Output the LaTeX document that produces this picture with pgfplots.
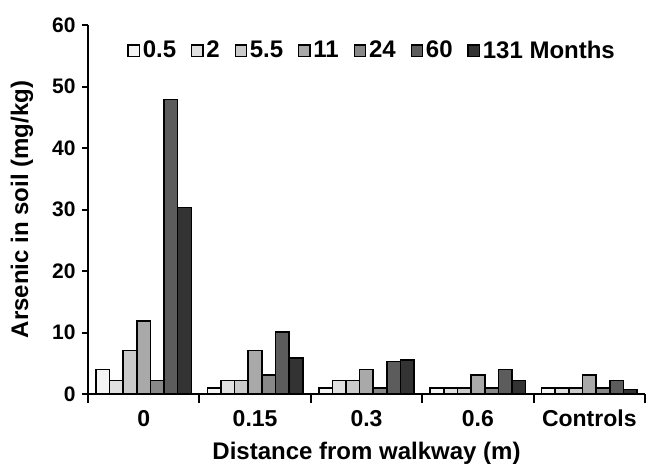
\documentclass[border=0pt]{standalone}
\usepackage{pgfplots}
\pgfplotsset{compat=1.18}
\usepackage{fontspec}
\setmainfont{Liberation Sans}
\definecolor{c1}{HTML}{F4F4F4}
\definecolor{c2}{HTML}{E0E0E0}
\definecolor{c3}{HTML}{CACACA}
\definecolor{c4}{HTML}{A9A9A9}
\definecolor{c5}{HTML}{888888}
\definecolor{c6}{HTML}{5C5C5C}
\definecolor{c7}{HTML}{333333}
\begin{document}
\begin{tikzpicture}
\useasboundingbox (-44pt,-36pt) rectangle (279.5pt,197pt);
\begin{axis}[
  scale only axis,
  width=278.5pt, height=184.5pt,
  ybar=0pt, bar width=6.8pt,
  xmin=-0.5, xmax=4.5, ymin=0, ymax=60,
  axis lines=left,
  axis line style={line width=1pt, -},
  xtick={0,1,2,3,4},
  xticklabels={0,0.15,0.3,0.6,Controls},
  minor xtick={-0.5,0.5,1.5,2.5,3.5,4.5},
  major x tick style={draw=none},
  minor x tick style={line width=1pt, black},
  minor tick length=4.5pt,
  ytick={0,10,...,60},
  major tick length=3pt,
  y tick style={line width=1pt, black},
  tick align=outside,
  /pgf/number format/assume math mode=true,
  xticklabel style={font=\fontsize{11.5}{13}\selectfont\bfseries, anchor=center, yshift=-9.25pt},
  yticklabel style={font=\fontsize{10.5}{12}\selectfont\bfseries, anchor=east, inner sep=0pt, xshift=-3pt},
  xlabel={Distance from walkway (m)},
  ylabel={Arsenic in soil (mg/kg)},
  every axis x label/.style={at={(axis description cs:0.5,0)}, anchor=center, yshift=-29.5pt, font=\fontsize{12}{14}\selectfont\bfseries},
  every axis y label/.style={at={(axis description cs:-0.1185,0.5)}, anchor=center, rotate=90, font=\fontsize{12}{14}\selectfont\bfseries},
  legend columns=-1,
  legend image code/.code={\draw[#1, line width=0.7pt] (0pt,-2.9pt) rectangle (5.6pt,2.9pt);},
  legend style={draw=none, fill=none, inner sep=0pt, at={(rel axis cs:0.0700,0.93)}, anchor=west,
    font=\fontsize{12}{14}\selectfont\bfseries, nodes={inner sep=1.4pt},
    /tikz/every even column/.append style={column sep=6pt}},
  every axis plot/.append style={draw=black, line width=0.8pt},
]
\addplot[fill=c1] coordinates {(0,4.0) (1,1.0) (2,1.0) (3,1.0) (4,1.0)};
\addplot[fill=c2] coordinates {(0,2.2) (1,2.2) (2,2.2) (3,1.0) (4,1.0)};
\addplot[fill=c3] coordinates {(0,7.1) (1,2.2) (2,2.2) (3,1.0) (4,1.0)};
\addplot[fill=c4] coordinates {(0,11.9) (1,7.1) (2,4.0) (3,3.1) (4,3.1)};
\addplot[fill=c5] coordinates {(0,2.2) (1,3.1) (2,1.0) (3,1.0) (4,1.0)};
\addplot[fill=c6] coordinates {(0,47.9) (1,10.1) (2,5.3) (3,4.0) (4,2.2)};
\addplot[fill=c7] coordinates {(0,30.3) (1,5.9) (2,5.5) (3,2.2) (4,0.7)};
\legend{0.5,2,5.5,11,24,60,131 Months}
\end{axis}
\end{tikzpicture}
\end{document}
